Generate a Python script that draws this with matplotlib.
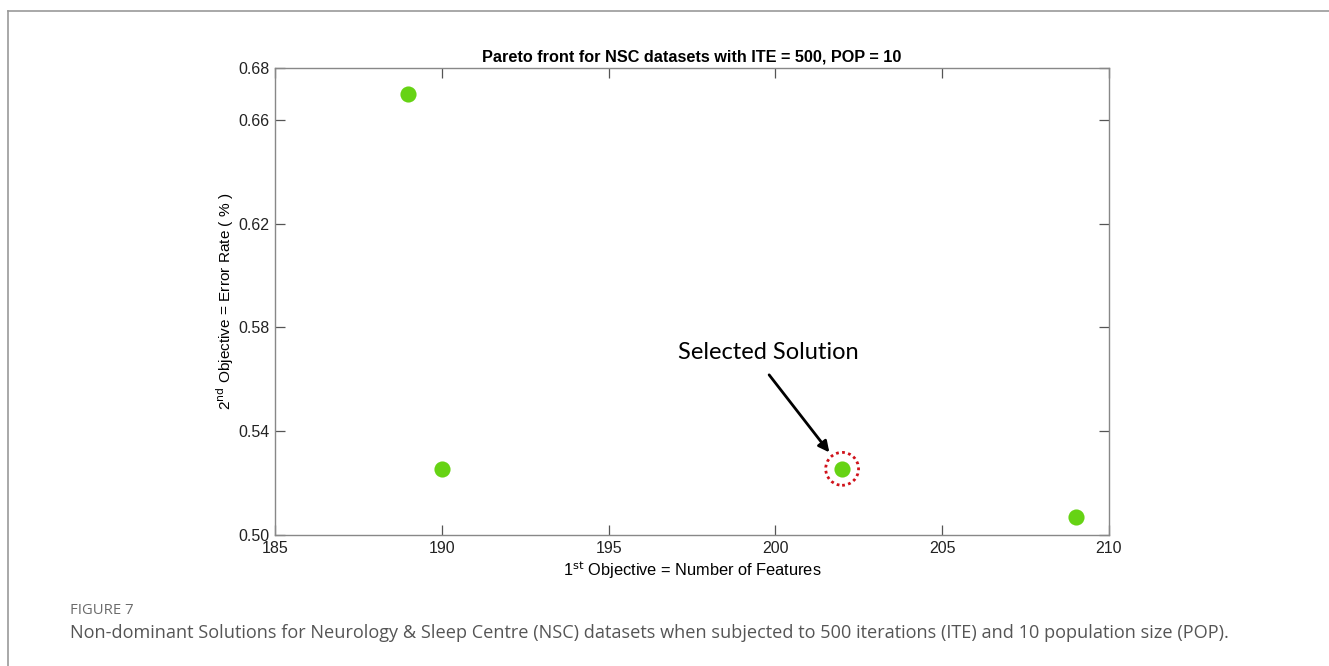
import numpy as np
import matplotlib.pyplot as plt
from matplotlib.lines import Line2D

# Non-dominated solutions (number of features, error rate)
n_features = [189, 190, 202, 209]
error_rate = [0.670, 0.5255, 0.5255, 0.507]
selected = 2

x_ticks = [185, 190, 195, 200, 205, 210]
y_ticks = [0.50, 0.54, 0.58, 0.62, 0.66, 0.68]

W, H = 1329, 666
fig = plt.figure(figsize=(W / 100, H / 100), dpi=100)
plt.rcParams['font.family'] = ['Liberation Sans', 'DejaVu Sans']

# thin frame round the panel (top and left edges only)
fig.add_artist(Line2D([8 / W, 1], [1 - 11 / H, 1 - 11 / H], color='#999999', lw=1.2))
fig.add_artist(Line2D([8 / W, 8 / W], [0, 1 - 11 / H], color='#999999', lw=1.2))

ax = fig.add_axes([275 / W, 1 - 535 / H, (1109 - 275) / W, (535 - 68) / H])
ax.scatter(n_features, error_rate, s=135, color='#66d314', zorder=3, linewidths=0)

ax.set_xlim(185, 210)
ax.set_ylim(0.50, 0.68)
ax.set_xticks(x_ticks)
ax.set_yticks(y_ticks)
ax.set_yticklabels(['%.2f' % v for v in y_ticks])
ax.tick_params(direction='in', top=True, right=True, length=7, width=0.9,
               color='#555555', labelsize=11.5, labelcolor='#222222', pad=4)
for sp in ax.spines.values():
    sp.set_color('#888888')
    sp.set_linewidth(1.0)

ax.set_title('Pareto front for NSC datasets with ITE = 500, POP = 10',
             fontsize=11.7, fontweight='bold', pad=5)
ax.set_xlabel('1$^{\\mathrm{st}}$ Objective = Number of Features', fontsize=11.8, labelpad=3)
ax.set_ylabel('2$^{\\mathrm{nd}}$ Objective = Error Rate ( % )', fontsize=11.1)
ax.yaxis.set_label_coords(-0.047, 0.5)

# highlight the chosen solution
sx, sy = n_features[selected], error_rate[selected]
ax.scatter([sx], [sy], s=560, facecolors='none', edgecolors='#d0121b',
           linewidths=2.0, linestyles=(0, (1, 1.2)), zorder=4)
ax.annotate('Selected Solution', xy=(sx, sy), xytext=(-74, 116),
            textcoords='offset pixels', ha='center', va='center',
            fontsize=17, family=['Lato', 'DejaVu Sans'])
ax.annotate('', xy=(sx, sy), xytext=(-73, 94), textcoords='offset pixels',
            arrowprops=dict(arrowstyle='-|>', color='black', lw=2.0,
                            mutation_scale=16, shrinkA=0, shrinkB=15))

fig.text(70 / W, 1 - 611 / H, 'FIGURE 7', fontsize=10.7, color='#6b6b6b',
         family=['Open Sans', 'DejaVu Sans'], va='center')
fig.text(70 / W, 1 - 633 / H,
         'Non-dominant Solutions for Neurology & Sleep Centre (NSC) datasets when subjected to '
         '500 iterations (ITE) and 10 population size (POP).',
         fontsize=13.1, color='#555555', family=['Open Sans', 'DejaVu Sans'], va='center')

fig.savefig('out.png', dpi=100)
